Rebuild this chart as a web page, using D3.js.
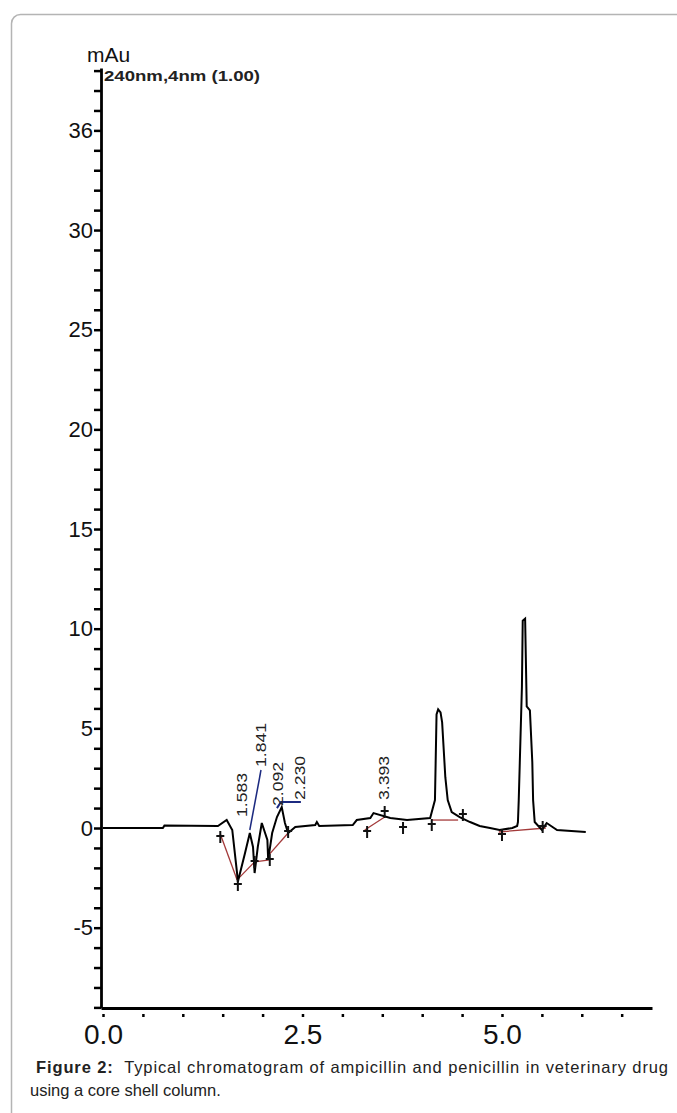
<!DOCTYPE html>
<html>
<head>
<meta charset="utf-8">
<script src="https://cdn.jsdelivr.net/npm/d3@7"></script>
<style>
  body { margin: 0; background: #fff; }
  svg { display: block; font-family: "Liberation Sans", Arial, sans-serif; }
</style>
</head>
<body>
<svg id="svgContainer"></svg>
<script>
// Chromatogram trace (time in min, signal in mAu)
const traceTime = [0, 0.75, 0.77, 1.44, 1.55, 1.62, 1.68, 1.69, 1.78, 1.84, 1.88, 1.90, 1.94, 1.99,
  2.06, 2.07, 2.12, 2.18, 2.24, 2.28, 2.32, 2.41, 2.66, 2.68, 2.71, 3.13, 3.18, 3.35, 3.39, 3.60,
  3.81, 4.10, 4.16, 4.18, 4.20, 4.23, 4.25, 4.29, 4.32, 4.37, 4.47, 4.60, 4.72, 4.85, 4.97, 5.13,
  5.19, 5.20, 5.21, 5.25, 5.26, 5.29, 5.31, 5.35, 5.38, 5.39, 5.41, 5.50, 5.56, 5.69, 6.05];
const traceMau = [0, 0, 0.12, 0.1, 0.4, -0.1, -2.26, -2.7, -1.25, -0.25, -0.95, -2.26, -0.95, 0.25,
  -0.6, -1.6, -0.25, 0.55, 1.05, 0.25, -0.25, 0.05, 0.15, 0.3, 0.1, 0.15, 0.4, 0.5, 0.75, 0.5,
  0.4, 0.5, 1.4, 5.7, 5.95, 5.8, 5.3, 2.55, 1.4, 0.8, 0.55, 0.3, 0.1, 0, -0.1, 0,
  0.1, 0.3, 1.4, 7.1, 10.4, 10.5, 6.1, 5.9, 3.3, 1.4, 0.3, -0.1, 0.25, -0.1, -0.2];

// Retention time labels
const peakTimes = [1.583, 1.841, 2.092, 2.230, 3.393];
const peakLabels = ["1.583", "1.841", "2.092", "2.230", "3.393"];

// Integration start / end markers
const markerTime = [1.47, 1.69, 1.90, 2.09, 2.32, 3.31, 3.53, 3.76, 4.12, 4.51, 5.00, 5.51];
const markerMau = [-0.45, -2.86, -1.71, -1.61, -0.2, -0.2, 0.8, 0.0, 0.15, 0.65, -0.35, 0.05];

// Integration baselines [t1, y1, t2, y2]
const baselineSegs = [
  [1.47, -0.3, 1.68, -2.6],
  [1.68, -2.6, 1.90, -1.7],
  [1.90, -1.7, 2.09, -1.6],
  [2.09, -1.3, 2.32, -0.25],
  [3.28, -0.1, 3.53, 0.55],
  [4.12, 0.4, 4.45, 0.4],
  [4.96, -0.2, 5.55, 0.0]
];

// Axis ticks
const yMinorTicks = d3.range(-9, 39, 1);
const yMajorTicks = [-5, 0, 5, 10, 15, 20, 25, 30, 35];
const yMajorLabels = ["-5", "0", "5", "10", "15", "20", "25", "30", "36"];
const xTicks = [0, 0.5, 1, 1.5, 2, 2.5, 3, 3.5, 4, 4.5, 5, 5.5, 6, 6.5];
const xMajorTicks = [0, 2.5, 5];

const svgWidth = 677;
const svgHeight = 1113;
const svg = d3.select("#svgContainer")
  .attr("width", svgWidth)
  .attr("height", svgHeight);

// Figure frame (rounded, runs off the page right and bottom)
svg.append("rect")
  .attr("x", 11.5).attr("y", 14.5)
  .attr("width", 720).attr("height", 1200)
  .attr("rx", 9)
  .attr("fill", "none")
  .attr("stroke", "#b4b4b4")
  .attr("stroke-width", 1.5);

// Scales
const x = d3.scaleLinear().domain([-0.025, 6.88]).range([101, 652]);
const y = d3.scaleLinear().domain([-9.03, 38.13]).range([1008, 68]);

// Y axis
const yAxis = d3.axisLeft(y)
  .tickValues(yMinorTicks)
  .tickSize(7)
  .tickSizeOuter(0)
  .tickFormat(d => {
    const i = yMajorTicks.indexOf(d);
    return i >= 0 ? yMajorLabels[i] : "";
  });

const yAxisG = svg.append("g")
  .attr("transform", "translate(101,0)")
  .call(yAxis);
yAxisG.select(".domain").attr("stroke-width", 2.8);
yAxisG.selectAll(".tick line").attr("stroke-width", 2.5);
yAxisG.selectAll(".tick text")
  .attr("font-size", 22)
  .attr("font-family", "Liberation Sans, Arial, sans-serif")
  .attr("fill", "#111")
  .attr("x", -8);

// X axis: small dots below the axis line
const xAxis = d3.axisBottom(x)
  .tickValues(xTicks)
  .tickSize(0)
  .tickSizeOuter(0)
  .tickFormat(d => xMajorTicks.includes(d) ? d3.format(".1f")(d) : "");

const xAxisG = svg.append("g")
  .attr("transform", "translate(0,1008)")
  .call(xAxis);
xAxisG.select(".domain").attr("stroke-width", 2.8);
xAxisG.selectAll(".tick line")
  .attr("y1", 6).attr("y2", 9)
  .attr("stroke-width", 2.5);
xAxisG.selectAll(".tick text")
  .attr("font-size", 28)
  .attr("font-family", "Liberation Sans, Arial, sans-serif")
  .attr("fill", "#111")
  .attr("y", 36)
  .attr("dy", null);

// Unit label and detector caption
svg.append("text")
  .attr("x", 87).attr("y", 62)
  .attr("font-size", 21)
  .attr("fill", "#111")
  .text("mAu");

svg.append("text")
  .attr("x", 104).attr("y", 81)
  .attr("font-size", 14)
  .attr("font-weight", "bold")
  .attr("textLength", 156)
  .attr("lengthAdjust", "spacingAndGlyphs")
  .attr("fill", "#222")
  .text("240nm,4nm (1.00)");

// Integration baselines
svg.selectAll(".baseline")
  .data(baselineSegs)
  .enter()
  .append("line")
  .attr("class", "baseline")
  .attr("x1", d => x(d[0])).attr("y1", d => y(d[1]))
  .attr("x2", d => x(d[2])).attr("y2", d => y(d[3]))
  .attr("stroke", "#a33a3a")
  .attr("stroke-width", 1.3);

// Trace
const traceData = traceTime.map((t, i) => [t, traceMau[i]]);
const line = d3.line().x(d => x(d[0])).y(d => y(d[1]));
svg.append("path")
  .datum(traceData)
  .attr("d", line)
  .attr("fill", "none")
  .attr("stroke", "#000")
  .attr("stroke-width", 2)
  .attr("stroke-linejoin", "miter");

// Marker crosses
svg.selectAll(".marker")
  .data(markerTime.map((t, i) => [t, markerMau[i]]))
  .enter()
  .append("path")
  .attr("class", "marker")
  .attr("d", d => {
    const px = x(d[0]), py = y(d[1]);
    return `M${px},${py - 6}V${py + 6}M${px - 4},${py - 1}H${px + 4}`;
  })
  .attr("stroke", "#111")
  .attr("stroke-width", 2);

// Pointer lines from labels (navy)
svg.append("line")
  .attr("x1", x(1.98)).attr("y1", 770)
  .attr("x2", x(1.84)).attr("y2", y(-0.1))
  .attr("stroke", "#1c2a80").attr("stroke-width", 1.5);
svg.append("path")
  .attr("d", `M${x(2.18)},${y(1.0)}L${x(2.23)},802H${x(2.48)}`)
  .attr("fill", "none")
  .attr("stroke", "#1c2a80").attr("stroke-width", 2);

// Retention time labels, rotated
const labelDx = [13, 11, 8, 19, 10];
const labelBottom = [817, 767, 806, 800, 800];
svg.selectAll(".rt-label")
  .data(peakTimes)
  .enter()
  .append("text")
  .attr("class", "rt-label")
  .attr("transform", (d, i) => `translate(${x(d) + labelDx[i] + 5},${labelBottom[i]}) rotate(-90)`)
  .attr("font-size", 14)
  .attr("textLength", 44)
  .attr("lengthAdjust", "spacingAndGlyphs")
  .attr("fill", "#222")
  .text((d, i) => peakLabels[i]);

// Figure caption
const caption1 = svg.append("text")
  .attr("x", 36).attr("y", 1073)
  .attr("font-size", 16.5)
  .attr("fill", "#222")
  .attr("textLength", 632)
  .attr("lengthAdjust", "spacing");
caption1.append("tspan")
  .attr("font-weight", "bold")
  .text("Figure 2:");
caption1.append("tspan")
  .text("\u00a0 Typical chromatogram of ampicillin and penicillin in veterinary drug");

svg.append("text")
  .attr("x", 30).attr("y", 1096)
  .attr("font-size", 16.5)
  .attr("fill", "#222")
  .text("using a core shell column.");
</script>
</body>
</html>
